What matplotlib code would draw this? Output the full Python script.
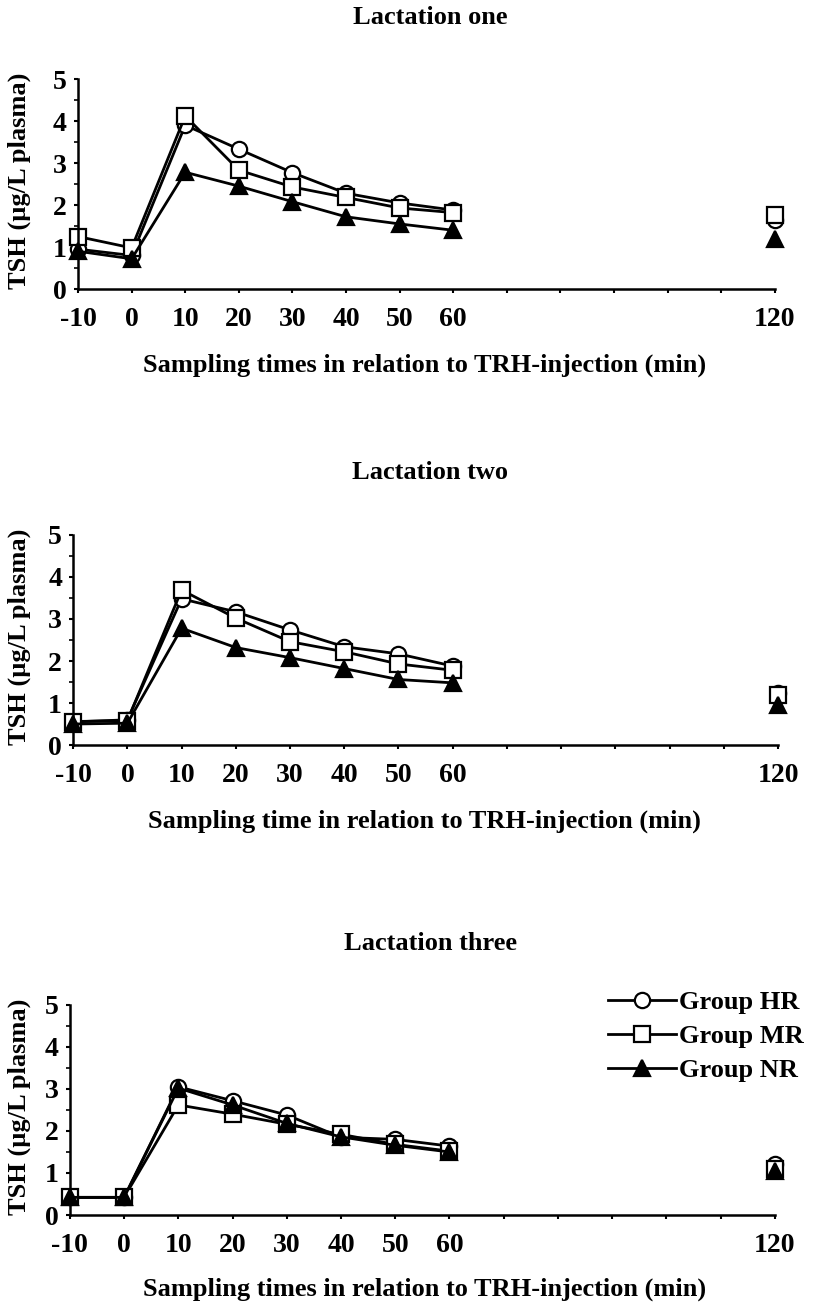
import matplotlib
matplotlib.use('Agg')
import matplotlib.pyplot as plt
from matplotlib.ticker import MultipleLocator, FixedLocator

plt.rcParams['font.family'] = ['Liberation Serif', 'DejaVu Serif']
plt.rcParams['font.weight'] = 'bold'

times = [-10, 0, 10, 20, 30, 40, 50, 60, 120]
tick_times = [-10, 0, 10, 20, 30, 40, 50, 60, 70, 80, 90, 100, 110, 120]
tick_labels = ['-10', '0', '10', '20', '30', '40', '50', '60', '', '', '', '', '', '120']

titles = ['Lactation one', 'Lactation two', 'Lactation three']
xlabels = ['Sampling times in relation to TRH-injection (min)',
           'Sampling time in relation to TRH-injection (min)',
           'Sampling times in relation to TRH-injection (min)']

# lactation one
hr_1 = [0.95, 0.80, 3.90, 3.33, 2.77, 2.28, 2.05, 1.88, 1.65]
mr_1 = [1.25, 0.98, 4.12, 2.83, 2.43, 2.18, 1.93, 1.82, 1.76]
nr_1 = [0.90, 0.72, 2.78, 2.45, 2.08, 1.72, 1.55, 1.40, 1.18]
# lactation two
hr_2 = [0.55, 0.60, 3.48, 3.17, 2.74, 2.34, 2.17, 1.88, 1.25]
mr_2 = [0.56, 0.58, 3.69, 3.02, 2.46, 2.22, 1.93, 1.78, 1.20]
nr_2 = [0.50, 0.52, 2.78, 2.32, 2.08, 1.82, 1.56, 1.48, 0.95]
# lactation three
hr_3 = [0.42, 0.42, 3.05, 2.72, 2.38, 1.85, 1.80, 1.64, 1.22]
mr_3 = [0.42, 0.42, 2.62, 2.40, 2.16, 1.92, 1.68, 1.52, 1.10]
nr_3 = [0.42, 0.42, 3.02, 2.62, 2.18, 1.86, 1.66, 1.50, 1.05]

panels = [(hr_1, mr_1, nr_1), (hr_2, mr_2, nr_2), (hr_3, mr_3, nr_3)]
groups = ['Group HR', 'Group MR', 'Group NR']
styles = [dict(marker='o', mfc='white', ms=11),
          dict(marker='s', mfc='white', ms=11),
          dict(marker='^', mfc='black', ms=11)]

fig = plt.figure(figsize=(8.13, 13.08), dpi=100)
axes_rects = [[0.096, 0.779, 0.857, 0.1606],
              [0.090, 0.4304, 0.867, 0.1606],
              [0.086, 0.0711, 0.867, 0.1606]]
title_y = [0.987, 0.6384, 0.279]
xlabel_y = [0.7209, 0.3723, 0.0145]
ylabel_y = [0.8616, 0.5128, 0.1535]

for i, rect in enumerate(axes_rects):
    ax = fig.add_axes(rect)
    handles = []
    for vals, st, name in zip(panels[i], styles, groups):
        h, = ax.plot(times[:-1], vals[:-1], color='black', lw=2, mec='black', mew=1.6,
                     label=name, clip_on=False, **st)
        ax.plot(times[-1:], vals[-1:], color='black', lw=0, mec='black', mew=1.6,
                clip_on=False, **st)
        handles.append(h)
    ax.set_xlim(-10, 120)
    ax.set_ylim(0, 5)
    ax.spines['top'].set_visible(False)
    ax.spines['right'].set_visible(False)
    ax.spines['left'].set_linewidth(1.8)
    ax.spines['bottom'].set_linewidth(1.8)
    ax.xaxis.set_major_locator(FixedLocator(tick_times))
    ax.set_xticklabels(tick_labels)
    ax.yaxis.set_major_locator(MultipleLocator(1))
    ax.yaxis.set_minor_locator(MultipleLocator(0.5))
    ax.tick_params(axis='x', direction='out', length=3, width=1.5, labelsize=20, pad=10)
    ax.tick_params(axis='y', which='major', direction='out', length=3, width=1.5, labelsize=20, pad=5)
    ax.tick_params(axis='y', which='minor', direction='out', length=3, width=1.2)
    fig.text(0.024, ylabel_y[i], 'TSH (µg/L plasma)', rotation=90, ha='center', va='center',
             fontsize=19, fontweight='bold')
    fig.text(0.529, title_y[i], titles[i], ha='center', va='center', fontsize=19, fontweight='bold')
    fig.text(0.522, xlabel_y[i], xlabels[i], ha='center', va='center', fontsize=19, fontweight='bold')
    if i == 2:
        fig.legend(handles=handles, loc='upper right', bbox_to_anchor=(1.008, 0.255),
                   frameon=False, fontsize=19, handlelength=2.6, handletextpad=0.1,
                   labelspacing=0.4, borderaxespad=0.2)

fig.savefig('out.png', dpi=100)
